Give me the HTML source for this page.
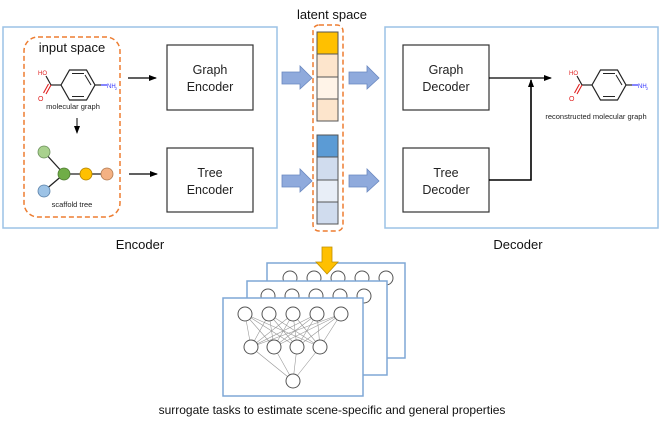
<!DOCTYPE html>
<html><head><meta charset="utf-8"><style>
html,body{margin:0;padding:0;background:#fff;}
svg{display:block;font-family:"Liberation Sans",Arial,sans-serif;}
</style></head><body>
<svg width="664" height="429" viewBox="0 0 664 429" xmlns="http://www.w3.org/2000/svg">
<defs>
<marker id="ah" markerWidth="8" markerHeight="8" refX="7" refY="4" orient="auto" markerUnits="userSpaceOnUse"><path d="M0,1 L8,4 L0,7 z" fill="#000"/></marker>
<g id="mol">
<polygon points="-17,0 -8.5,-15 8.5,-15 17,0 8.5,15 -8.5,15" fill="none" stroke="#222" stroke-width="1.2"/>
<path d="M-6,-11.5 L6,-11.5 M-6,11.5 L6,11.5 M13,0 L7,-10" stroke="#222" stroke-width="1" fill="none"/>
<path d="M17,0 L23,0" stroke="#222" stroke-width="1.2"/>
<path d="M23,0 L29,0" stroke="#3333ff" stroke-width="1.2"/>
<text x="29" y="3" font-size="6" fill="#3333ff">NH</text><text x="37" y="5" font-size="4" fill="#3333ff">2</text>
<path d="M-17,0 L-27,0" stroke="#222" stroke-width="1.2"/>
<path d="M-27,0 L-32,-9" stroke="#222" stroke-width="1.2"/>
<path d="M-27,0 L-32,9 M-29.5,-1 L-34.5,8" stroke="#e02020" stroke-width="1.1"/>
<text x="-40" y="-10" font-size="6" fill="#e02020">HO</text>
<text x="-40" y="16" font-size="7" fill="#e02020">O</text>
</g>
</defs>

<text x="332" y="19" font-size="13" text-anchor="middle" fill="#111">latent space</text>

<!-- Encoder -->
<rect x="3" y="27" width="274" height="201" fill="#fff" stroke="#9cc2e5" stroke-width="1.5"/>
<rect x="24" y="37" width="96" height="180" rx="14" fill="none" stroke="#ed7d31" stroke-width="1.5" stroke-dasharray="5,3"/>
<text x="72" y="52" font-size="13" text-anchor="middle" fill="#111">input space</text>
<use href="#mol" x="78" y="85"/>
<text x="73" y="109" font-size="7.5" text-anchor="middle" fill="#222">molecular graph</text>
<line x1="77" y1="118" x2="77" y2="133" stroke="#000" stroke-width="1" marker-end="url(#ah)"/>
<line x1="44" y1="152" x2="64" y2="174" stroke="#222" stroke-width="1.3"/>
<line x1="44" y1="191" x2="64" y2="174" stroke="#222" stroke-width="1.3"/>
<line x1="64" y1="174" x2="107" y2="174" stroke="#222" stroke-width="1.3"/>
<circle cx="44" cy="152" r="6" fill="#a9d18e" stroke="#6a8f5a" stroke-width="0.8"/>
<circle cx="64" cy="174" r="6" fill="#70ad47" stroke="#4e7a30" stroke-width="0.8"/>
<circle cx="86" cy="174" r="6" fill="#ffc000" stroke="#b08000" stroke-width="0.8"/>
<circle cx="107" cy="174" r="6" fill="#f4b183" stroke="#b07a50" stroke-width="0.8"/>
<circle cx="44" cy="191" r="6" fill="#9dc3e6" stroke="#5a80a8" stroke-width="0.8"/>
<text x="72" y="207" font-size="7.5" text-anchor="middle" fill="#222">scaffold tree</text>
<line x1="128" y1="78" x2="156" y2="78" stroke="#000" stroke-width="1.2" marker-end="url(#ah)"/>
<line x1="129" y1="174" x2="157" y2="174" stroke="#000" stroke-width="1.2" marker-end="url(#ah)"/>
<rect x="167" y="45" width="86" height="65" fill="#fff" stroke="#333" stroke-width="1.2"/>
<text x="210" y="74" font-size="12.5" text-anchor="middle" fill="#222">Graph</text>
<text x="210" y="91" font-size="12.5" text-anchor="middle" fill="#222">Encoder</text>
<rect x="167" y="148" width="86" height="64" fill="#fff" stroke="#333" stroke-width="1.2"/>
<text x="210" y="177" font-size="12.5" text-anchor="middle" fill="#222">Tree</text>
<text x="210" y="194" font-size="12.5" text-anchor="middle" fill="#222">Encoder</text>
<text x="140" y="249" font-size="13" text-anchor="middle" fill="#111">Encoder</text>

<!-- blue arrows -->
<g fill="#8faadc" stroke="#6a88c0" stroke-width="0.8">
<path d="M282,72 L300,72 L300,66 L312,78 L300,89 L300,84 L282,84 z"/>
<path d="M282,175 L300,175 L300,169 L312,181 L300,192 L300,187 L282,187 z"/>
<path d="M349,72 L367,72 L367,66 L379,78 L367,89 L367,84 L349,84 z"/>
<path d="M349,175 L367,175 L367,169 L379,181 L367,192 L367,187 L349,187 z"/>
</g>

<!-- latent -->
<rect x="313" y="25" width="30" height="206" rx="6" fill="none" stroke="#ed7d31" stroke-width="1.5" stroke-dasharray="5,3"/>
<g stroke="#555" stroke-width="1">
<rect x="317" y="32" width="21" height="22" fill="#ffc000"/>
<rect x="317" y="54" width="21" height="23" fill="#fde5cc"/>
<rect x="317" y="77" width="21" height="22" fill="#fff4e8"/>
<rect x="317" y="99" width="21" height="22" fill="#fde5cc"/>
<rect x="317" y="135" width="21" height="22" fill="#5b9bd5"/>
<rect x="317" y="157" width="21" height="23" fill="#d0dcee"/>
<rect x="317" y="180" width="21" height="22" fill="#e8eef7"/>
<rect x="317" y="202" width="21" height="22" fill="#d0dcee"/>
</g>

<!-- Decoder -->
<rect x="385" y="27" width="273" height="201" fill="#fff" stroke="#9cc2e5" stroke-width="1.5"/>
<rect x="403" y="45" width="86" height="65" fill="#fff" stroke="#333" stroke-width="1.2"/>
<text x="446" y="74" font-size="12.5" text-anchor="middle" fill="#222">Graph</text>
<text x="446" y="91" font-size="12.5" text-anchor="middle" fill="#222">Decoder</text>
<rect x="403" y="148" width="86" height="64" fill="#fff" stroke="#333" stroke-width="1.2"/>
<text x="446" y="177" font-size="12.5" text-anchor="middle" fill="#222">Tree</text>
<text x="446" y="194" font-size="12.5" text-anchor="middle" fill="#222">Decoder</text>
<line x1="489" y1="78" x2="551" y2="78" stroke="#000" stroke-width="1.3" marker-end="url(#ah)"/>
<polyline points="489,180 531,180 531,80" fill="none" stroke="#000" stroke-width="1.6" marker-end="url(#ah)"/>
<use href="#mol" x="609" y="85"/>
<text x="596" y="119" font-size="7.5" text-anchor="middle" fill="#222">reconstructed molecular graph</text>
<text x="518" y="249" font-size="13" text-anchor="middle" fill="#111">Decoder</text>

<!-- bottom stack -->
<rect x="267" y="263" width="138" height="95" fill="#fff" stroke="#7fa7d6" stroke-width="1.5"/>
<g fill="#fff" stroke="#555" stroke-width="1">
<circle cx="290" cy="278" r="7"/><circle cx="314" cy="278" r="7"/><circle cx="338" cy="278" r="7"/><circle cx="362" cy="278" r="7"/><circle cx="386" cy="278" r="7"/>
</g>
<rect x="247" y="281" width="140" height="94" fill="#fff" stroke="#7fa7d6" stroke-width="1.5"/>
<g fill="#fff" stroke="#555" stroke-width="1">
<circle cx="268" cy="296" r="7"/><circle cx="292" cy="296" r="7"/><circle cx="316" cy="296" r="7"/><circle cx="340" cy="296" r="7"/><circle cx="364" cy="296" r="7"/>
</g>
<rect x="223" y="298" width="140" height="98" fill="#fff" stroke="#7fa7d6" stroke-width="1.5"/>
<g stroke="#999" stroke-width="0.6">
<path d="M245,314 L251,347 M245,314 L274,347 M245,314 L297,347 M245,314 L320,347
M269,314 L251,347 M269,314 L274,347 M269,314 L297,347 M269,314 L320,347
M293,314 L251,347 M293,314 L274,347 M293,314 L297,347 M293,314 L320,347
M317,314 L251,347 M317,314 L274,347 M317,314 L297,347 M317,314 L320,347
M341,314 L251,347 M341,314 L274,347 M341,314 L297,347 M341,314 L320,347
M251,347 L293,381 M274,347 L293,381 M297,347 L293,381 M320,347 L293,381"/>
</g>
<g fill="#fff" stroke="#555" stroke-width="1">
<circle cx="245" cy="314" r="7"/><circle cx="269" cy="314" r="7"/><circle cx="293" cy="314" r="7"/><circle cx="317" cy="314" r="7"/><circle cx="341" cy="314" r="7"/>
<circle cx="251" cy="347" r="7"/><circle cx="274" cy="347" r="7"/><circle cx="297" cy="347" r="7"/><circle cx="320" cy="347" r="7"/>
<circle cx="293" cy="381" r="7"/>
</g>
<path d="M322,247 L332,247 L332,262 L338,262 L327,274 L316,262 L322,262 z" fill="#ffc000" stroke="#c09000" stroke-width="0.8"/>
<text x="332" y="414" font-size="12" text-anchor="middle" fill="#111">surrogate tasks to estimate scene-specific and general properties</text>
</svg>
</body></html>
